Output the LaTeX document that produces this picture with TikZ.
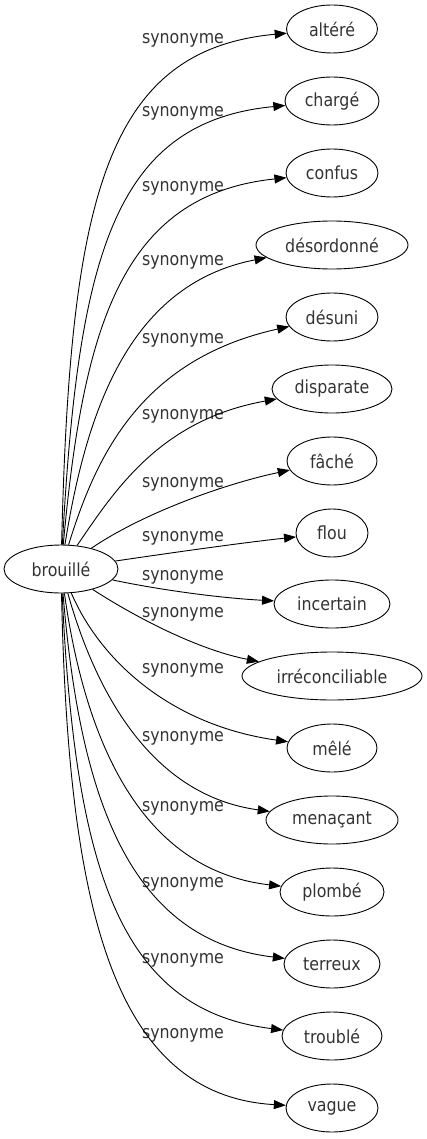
\documentclass[tikz,border=0pt]{standalone}
\usepackage{fontspec}
\setmainfont{DejaVu Sans}[FakeStretch=0.88]
\usetikzlibrary{shapes.geometric,arrows.meta}

\tikzset{
  word/.style={draw,ellipse,inner sep=0pt,minimum height=48pt,line width=0.9pt,
    text=black!80,font=\fontsize{18}{20}\selectfont},
  rel/.style={inner sep=0pt,text=black!80,font=\fontsize{18}{20}\selectfont},
  syn/.style={-{Triangle[length=12pt,width=9pt]},line width=0.9pt},
}

\begin{document}
\begin{tikzpicture}[x=1pt,y=-1pt]
  \useasboundingbox (0,0) rectangle (427,1139);

  \node[word,minimum width=114pt] (brouille) at (61,569) {brouillé};

  \node[word,minimum width=91pt] (altere) at (332,29) {altéré};
  \node[word,minimum width=94pt] (charge) at (332,101) {chargé};
  \node[word,minimum width=92pt] (confus) at (332,173) {confus};
  \node[word,minimum width=152pt] (desordonne) at (332,245) {désordonné};
  \node[word,minimum width=92pt] (desuni) at (332,317) {désuni};
  \node[word,minimum width=120pt] (disparate) at (332,389) {disparate};
  \node[word,minimum width=90pt] (fache) at (332,461) {fâché};
  \node[word,minimum width=72pt] (flou) at (332,533) {flou};
  \node[word,minimum width=116pt] (incertain) at (332,604) {incertain};
  \node[word,minimum width=180pt] (irreconciliable) at (332,676) {irréconciliable};
  \node[word,minimum width=90pt] (mele) at (332,748) {mêlé};
  \node[word,minimum width=132pt] (menacant) at (332,820) {menaçant};
  \node[word,minimum width=104pt] (plombe) at (332,892) {plombé};
  \node[word,minimum width=96pt] (terreux) at (332,964) {terreux};
  \node[word,minimum width=100pt] (trouble) at (332,1036) {troublé};
  \node[word,minimum width=92pt] (vague) at (332,1108) {vague};

  % edge labels
  \node[rel] (s-altere) at (183,40) {synonyme};
  \node[rel] (s-charge) at (183,113) {synonyme};
  \node[rel] (s-confus) at (183,188) {synonyme};
  \node[rel] (s-desordonne) at (183,262) {synonyme};
  \node[rel] (s-desuni) at (183,340) {synonyme};
  \node[rel] (s-disparate) at (183,416) {synonyme};
  \node[rel] (s-fache) at (183,484) {synonyme};
  \node[rel] (s-flou) at (183,538) {synonyme};
  \node[rel] (s-incertain) at (183,577) {synonyme};
  \node[rel] (s-irreconciliable) at (183,614) {synonyme};
  \node[rel] (s-mele) at (183,670) {synonyme};
  \node[rel] (s-menacant) at (183,738) {synonyme};
  \node[rel] (s-plombe) at (183,808) {synonyme};
  \node[rel] (s-terreux) at (183,884) {synonyme};
  \node[rel] (s-trouble) at (183,960) {synonyme};
  \node[rel] (s-vague) at (183,1035) {synonyme};

  \draw[syn] (brouille) .. controls (70,200) and (105,50) .. (altere);
  \draw[syn] (brouille) .. controls (78,260) and (112,122) .. (charge);
  \draw[syn] (brouille) .. controls (83,330) and (120,195) .. (confus);
  \draw[syn] (brouille) .. controls (85,420) and (125,285) .. (desordonne);
  \draw[syn] (brouille) .. controls (95,460) and (138,360) .. (desuni);
  \draw[syn] (brouille) .. controls (115,490) and (160,420) .. (disparate);
  \draw[syn] (brouille) .. controls (140,515) and (220,485) .. (fache);
  \draw[syn] (brouille) .. controls (170,553) and (240,543) .. (flou);
  \draw[syn] (brouille) .. controls (160,590) and (220,598) .. (incertain);
  \draw[syn] (brouille) .. controls (140,620) and (200,650) .. (irreconciliable);
  \draw[syn] (brouille) .. controls (100,660) and (170,725) .. (mele);
  \draw[syn] (brouille) .. controls (95,690) and (150,795) .. (menacant);
  \draw[syn] (brouille) .. controls (85,740) and (140,870) .. (plombe);
  \draw[syn] (brouille) .. controls (80,800) and (130,940) .. (terreux);
  \draw[syn] (brouille) .. controls (75,870) and (120,1010) .. (trouble);
  \draw[syn] (brouille) .. controls (68,900) and (110,1095) .. (vague);
\end{tikzpicture}
\end{document}
